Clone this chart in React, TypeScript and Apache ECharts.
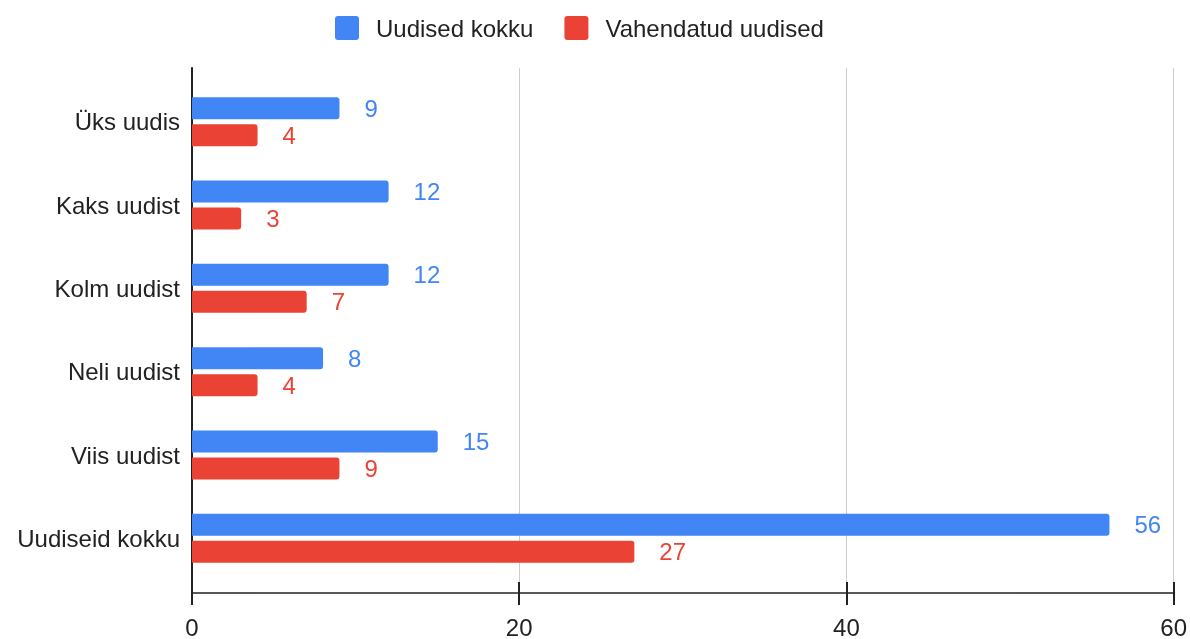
import React, { useEffect, useRef } from "react";
import * as echarts from "echarts";

const categories = ["Üks uudis", "Kaks uudist", "Kolm uudist", "Neli uudist", "Viis uudist", "Uudiseid kokku"];
const seriesNames = ["Uudised kokku", "Vahendatud uudised"];
const totalNews = [9, 12, 12, 8, 15, 56];
const mediatedNews = [4, 3, 7, 4, 9, 27];
const xTicks = { min: 0, max: 60, interval: 20 };

const BLUE = "#4285F4";
const RED = "#EA4335";
const FONT = "'Liberation Sans', Arial, sans-serif";
const FS = 24;
const LEGEND_ICON =
  "path://M3,0H21A3,3 0 0 1 24,3V21A3,3 0 0 1 21,24H3A3,3 0 0 1 0,21V3A3,3 0 0 1 3,0Z";

export default function App() {
  const ref = useRef<HTMLDivElement>(null);
  useEffect(() => {
    if (!ref.current) return;
    const chart = echarts.init(ref.current, undefined, { renderer: "svg" });
    const labelStyle = (color: string) => ({
      show: true,
      position: "right" as const,
      distance: 25,
      color,
      fontSize: FS,
      fontFamily: FONT,
    });
    chart.setOption({
      animation: false,
      textStyle: { fontFamily: FONT },
      legend: {
        top: 16,
        left: 335,
        padding: 0,
        itemWidth: 24,
        itemHeight: 24,
        itemGap: 31,
        icon: LEGEND_ICON,
        textStyle: { fontSize: FS, color: "#222", fontFamily: FONT, padding: [0, 0, 0, 12] },
        data: seriesNames,
      },
      grid: [
        { left: 192, right: 15, top: 68, bottom: 46 },
        { left: 192, right: 15, top: 80, bottom: 59 },
      ],
      xAxis: [
        {
          gridIndex: 0,
          type: "value",
          position: "bottom",
          ...xTicks,
          splitLine: { show: true, lineStyle: { color: "#cccccc", width: 1 } },
          axisLine: { show: true, onZero: false, lineStyle: { color: "#222", width: 1.5 } },
          axisTick: { show: true, inside: false, length: 12, lineStyle: { color: "#222", width: 2 } },
          axisLabel: { show: true, fontSize: FS, color: "#222", fontFamily: FONT, margin: 22 },
        },
        {
          gridIndex: 0,
          type: "value",
          position: "bottom",
          ...xTicks,
          splitLine: { show: false },
          axisLine: { show: false, onZero: false },
          axisTick: { show: true, inside: true, length: 11, lineStyle: { color: "#222", width: 2 } },
          axisLabel: { show: false },
        },
        {
          gridIndex: 1,
          type: "value",
          ...xTicks,
          show: false,
        },
      ],
      yAxis: [
        {
          gridIndex: 0,
          type: "value",
          min: 0,
          max: 1,
          axisLine: { show: true, onZero: false, lineStyle: { color: "#222", width: 2 } },
          axisTick: { show: false },
          axisLabel: { show: false },
          splitLine: { show: false },
        },
        {
          gridIndex: 1,
          type: "category",
          inverse: true,
          data: categories,
          axisLine: { show: false },
          axisTick: { show: false },
          axisLabel: { fontSize: FS, color: "#222", fontFamily: FONT, margin: 12 },
        },
      ],
      series: [
        {
          name: seriesNames[0],
          type: "bar",
          xAxisIndex: 2,
          yAxisIndex: 1,
          data: totalNews,
          barWidth: 22,
          barGap: "23%",
          itemStyle: { color: BLUE, borderRadius: [0, 3, 3, 0] },
          label: labelStyle(BLUE),
        },
        {
          name: seriesNames[1],
          type: "bar",
          xAxisIndex: 2,
          yAxisIndex: 1,
          data: mediatedNews,
          barWidth: 22,
          barGap: "23%",
          itemStyle: { color: RED, borderRadius: [0, 3, 3, 0] },
          label: labelStyle(RED),
        },
      ],
    });
    return () => chart.dispose();
  }, []);
  return <div ref={ref} style={{ position: "fixed", left: 0, top: 0, width: 1190, height: 639 }} />;
}
